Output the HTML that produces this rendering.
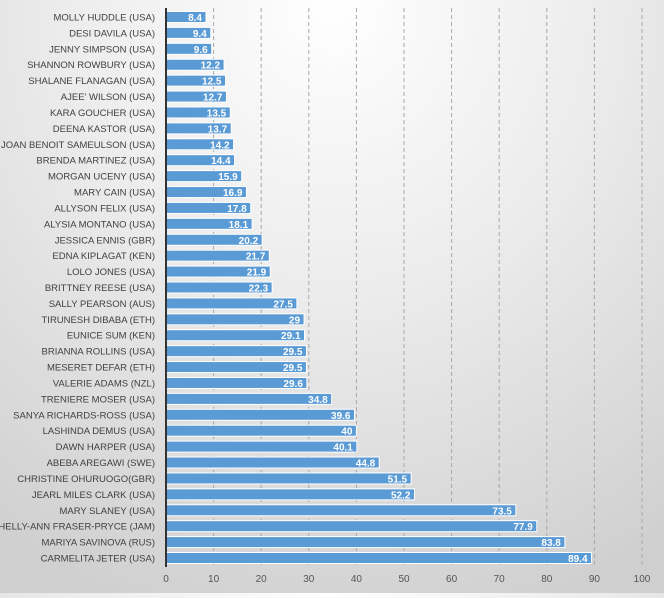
<!DOCTYPE html>
<html><head><meta charset="utf-8"><style>
html,body{margin:0;padding:0}
body{width:664px;height:593px;overflow:hidden;background:radial-gradient(ellipse 90% 110% at 50% 0%,#ffffff 0%,#ececec 45%,#cfcfcf 100%);font-family:"Liberation Sans",sans-serif}
</style></head><body>
<svg id="chart" width="664" height="593" xmlns="http://www.w3.org/2000/svg"></svg>
<script>
const names=["MOLLY HUDDLE (USA)","DESI DAVILA (USA)","JENNY SIMPSON (USA)","SHANNON ROWBURY (USA)","SHALANE FLANAGAN (USA)","AJEE' WILSON (USA)","KARA GOUCHER (USA)","DEENA KASTOR (USA)","JOAN BENOIT SAMEULSON (USA)","BRENDA MARTINEZ (USA)","MORGAN UCENY (USA)","MARY CAIN (USA)","ALLYSON FELIX (USA)","ALYSIA MONTANO (USA)","JESSICA ENNIS (GBR)","EDNA KIPLAGAT (KEN)","LOLO JONES (USA)","BRITTNEY REESE (USA)","SALLY PEARSON (AUS)","TIRUNESH DIBABA (ETH)","EUNICE SUM (KEN)","BRIANNA ROLLINS (USA)","MESERET DEFAR (ETH)","VALERIE ADAMS (NZL)","TRENIERE MOSER (USA)","SANYA RICHARDS-ROSS (USA)","LASHINDA DEMUS (USA)","DAWN HARPER (USA)","ABEBA AREGAWI (SWE)","CHRISTINE OHURUOGO(GBR)","JEARL MILES CLARK (USA)","MARY SLANEY (USA)","SHELLY-ANN FRASER-PRYCE (JAM)","MARIYA SAVINOVA (RUS)","CARMELITA JETER (USA)"];
const values=[8.4,9.4,9.6,12.2,12.5,12.7,13.5,13.7,14.2,14.4,15.9,16.9,17.8,18.1,20.2,21.7,21.9,22.3,27.5,29,29.1,29.5,29.5,29.6,34.8,39.6,40,40.1,44.8,51.5,52.2,73.5,77.9,83.8,89.4];
const ticks=[0,10,20,30,40,50,60,70,80,90,100];
const svg=document.getElementById('chart');
const NS='http://www.w3.org/2000/svg';
const x0=166,x1=642,yTop=17,yBot=558;
const xs=v=>x0+(v-0)/100*(x1-x0);
const step=(yBot-yTop)/(names.length-1);
const ys=i=>yTop+i*step;
function mk(t,a){const e=document.createElementNS(NS,t);for(const k in a)e.setAttribute(k,a[k]);svg.appendChild(e);return e;}
ticks.forEach(t=>{
 if(t>0){const g=mk('line',{x1:xs(t),x2:xs(t),y1:8,y2:567,stroke:'#a8a8a8','stroke-width':1,'stroke-dasharray':'4,3'});
 
 }
 const l=mk('text',{x:xs(t),y:582,'text-anchor':'middle','font-size':10,fill:'#555'});l.textContent=t;
 
 
});
names.forEach((n,i)=>{
 const y=ys(i),v=values[i];
 const r=mk('rect',{x:x0,y:y-5.5,width:xs(v)-x0,height:11,fill:'#5b9bd5',stroke:'#ffffff','stroke-width':1});
 
 
 const lab=mk('text',{x:155,y:y+3.5,'text-anchor':'end','font-size':9.5,fill:'#404040'});lab.textContent=n;
 
 
 const vl=mk('text',{x:xs(v)-4,y:y+4,'text-anchor':'end','font-size':10,'font-weight':'bold',fill:'#ffffff'});vl.textContent=v;
 
 
});
const ax=mk('line',{x1:x0,x2:x0,y1:8,y2:567,stroke:'#333','stroke-width':2});


</script>
</body></html>
